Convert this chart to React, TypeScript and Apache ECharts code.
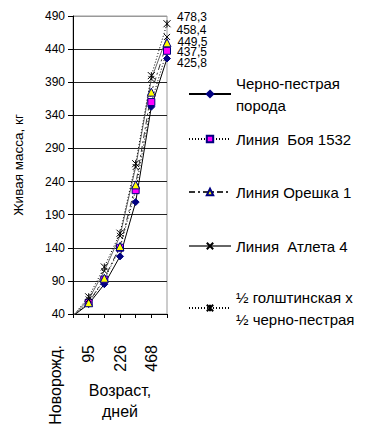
import React, { useEffect, useRef } from "react";
import * as echarts from "echarts";

const categories = ["Новорожд.", "95", "", "226", "", "468", ""];
const seriesNames = [
  "Черно-пестрая\nпорода",
  "Линия  Боя 1532",
  "Линия Орешка 1",
  "Линия  Атлета 4",
  "½ голштинская х\n½ черно-пестрая",
];
const blackPied = [37, 55, 85, 127, 209, 353, 425.8];
const boya = [37, 57, 92, 140, 227, 360, 437.5];
const oreshka = [37, 57, 94, 142, 235, 375, 449.5];
const atleta = [37, 62, 105, 158, 262, 395, 458.4];
const holstein = [37, 66, 111, 162, 267, 400, 478.3];
const yMin = 40;
const yMax = 490;
const yStep = 50;

const FONT = "'Liberation Sans', Arial, sans-serif";

export default function App() {
  const ref = useRef<HTMLDivElement>(null);
  useEffect(() => {
    if (!ref.current) return;
    const chart = echarts.init(ref.current, undefined, { renderer: "svg" });

    const lastLabel = (arr: number[], dy: number) =>
      arr.map((v, i) =>
        i === arr.length - 1
          ? {
              value: v,
              label: {
                show: true,
                position: "right",
                distance: 6,
                offset: [0, dy],
                fontSize: 12,
                color: "#000",
                fontFamily: FONT,
                formatter: (p: any) => String(p.value).replace(".", ","),
              },
            }
          : v
      );

    const xPath = "path://M0,0L10,10M10,0L0,10";
    const starPath = "path://M0,0L10,10M10,0L0,10M5,0L5,10";

    const mk = (
      name: string,
      data: any[],
      line: any,
      symbol: string,
      size: number,
      item: any
    ) => ({
      type: "line",
      name,
      data,
      symbol,
      symbolSize: size,
      lineStyle: { width: 1, ...line },
      itemStyle: item,
      emphasis: { disabled: true },
    });

    const series = [
      mk(seriesNames[0], lastLabel(blackPied, 4), { color: "#000", type: "solid" }, "diamond", 7, {
        color: "#000080",
        borderColor: "#000080",
        borderWidth: 1,
      }),
      mk(seriesNames[1], lastLabel(boya, 1), { color: "#000", type: [1, 2] }, "rect", 7, {
        color: "#ff00ff",
        borderColor: "#000080",
        borderWidth: 1,
      }),
      mk(seriesNames[2], lastLabel(oreshka, -1), { color: "#333", type: [6, 3, 2, 3] }, "triangle", 8, {
        color: "#ffff00",
        borderColor: "#000080",
        borderWidth: 1,
      }),
      mk(seriesNames[3], lastLabel(atleta, -7), { color: "#666", type: "solid" }, xPath, 6, {
        color: "#000",
        borderColor: "#000",
        borderWidth: 1,
      }),
      mk(seriesNames[4], lastLabel(holstein, -7), { color: "#000", type: [1, 2] }, starPath, 7, {
        color: "#000",
        borderColor: "#000",
        borderWidth: 1,
      }),
    ];

    const legendTops = [61, 128, 181, 235, 275];
    const legends = seriesNames.map((n, i) => ({
      data: [n],
      orient: "vertical",
      left: 188,
      top: legendTops[i],
      padding: 0,
      itemWidth: 42,
      itemHeight: 8,
      itemGap: 0,
      selectedMode: false,
      textStyle: {
        fontSize: 15,
        lineHeight: 22,
        color: "#000",
        fontFamily: FONT,
        padding: n.includes("\n") ? [22, 0, 0, 0] : 0,
      },
    }));

    const gridColors = ["#222", "#222", "#222", "#222", "#222", "#222", "#222", "#222", "#222", "#999"];

    chart.setOption({
      animation: false,
      backgroundColor: "#fff",
      textStyle: { fontFamily: FONT },
      grid: {
        left: 73,
        right: 211,
        top: 16,
        bottom: 114,
        containLabel: false,
        outerBoundsMode: "none",
        show: true,
        borderColor: "#999",
        borderWidth: 1,
        backgroundColor: "transparent",
      },
      legend: legends,
      xAxis: {
        type: "category",
        boundaryGap: false,
        data: categories.map((c, i) =>
          i === 0 ? { value: c, textStyle: { lineHeight: 36 } } : c
        ),
        name: "Возраст,\nдней",
        nameLocation: "middle",
        nameGap: 66,
        nameMoveOverlap: false,
        nameTextStyle: { fontSize: 16, lineHeight: 21, color: "#000", fontFamily: FONT },
        axisLine: { lineStyle: { color: "#000", width: 1 } },
        axisTick: { show: true, length: 4, lineStyle: { color: "#000" } },
        axisLabel: {
          interval: 0,
          rotate: 90,
          margin: 31,
          fontSize: 16,
          color: "#000",
          fontFamily: FONT,
          formatter: (v: string, i: number) => (i === 0 ? v + "\n " : v),
        },
        splitLine: { show: false },
      },
      yAxis: {
        type: "value",
        min: yMin,
        max: yMax,
        interval: yStep,
        name: "Живая масса, кг",
        nameLocation: "middle",
        nameGap: 48,
        nameMoveOverlap: false,
        nameTextStyle: { fontSize: 13.5, color: "#000", fontFamily: FONT },
        axisLine: { show: true, lineStyle: { color: "#000", width: 1 } },
        axisTick: { show: true, length: 5, lineStyle: { color: "#000" } },
        axisLabel: { fontSize: 12, color: "#000", margin: 8, fontFamily: FONT },
        splitLine: { show: true, lineStyle: { color: gridColors, width: 1 } },
      },
      series,
    });
    return () => chart.dispose();
  }, []);
  return (
    <div
      ref={ref}
      style={{ position: "fixed", left: 0, top: 0, width: 378, height: 428, background: "#fff" }}
    />
  );
}
